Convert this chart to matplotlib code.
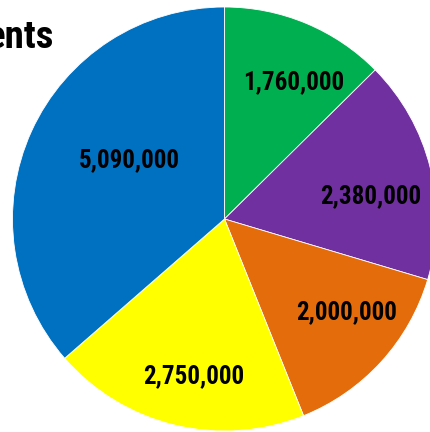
import matplotlib
matplotlib.use("Agg")
import matplotlib.pyplot as plt
import numpy as np

# Data
categories = ["A", "B", "C", "D", "E"]
values = [1760000, 2380000, 2000000, 2750000, 5090000]
labels = ["1,760,000", "2,380,000", "2,000,000", "2,750,000", "5,090,000"]
colors = ["#00B050", "#7030A0", "#E46C0A", "#FFFF00", "#0070C0"]
title_text = "ents"

# Label placement (radial fraction, angular offset in degrees from wedge middle)
label_r = [0.725, 0.70, 0.722, 0.755, 0.53]
label_dang = [-4.3, -5.3, 5.0, 2.4, -7.2]

FONT = ["Roboto Condensed", "Barlow Semi Condensed", "DejaVu Sans"]

fig = plt.figure(figsize=(4.30, 4.32), dpi=100)
W, H = 430, 432
cx, cy, R = 224.5, 219, 212
ax = fig.add_axes([(cx - R) / W, (H - (cy + R)) / H, 2 * R / W, 2 * R / H])
wedges, _ = ax.pie(values, colors=colors, startangle=90, counterclock=False,
                   radius=1, wedgeprops=dict(edgecolor="white", linewidth=0.6))
ax.set_xlim(-1, 1)
ax.set_ylim(-1, 1)
ax.set_aspect("auto")
ax.axis("off")

for w, lab, r, da in zip(wedges, labels, label_r, label_dang):
    mid = np.deg2rad((w.theta1 + w.theta2) / 2 + da)
    ax.text(r * np.cos(mid), r * np.sin(mid), lab, ha="center", va="center",
            fontsize=18, fontweight="bold", family=FONT, color="black")

fig.text(53.5 / W, 1 - 48 / H, title_text, ha="right", va="baseline",
         fontsize=28, fontweight="bold", family=FONT, color="black")

fig.savefig("out.png", dpi=100)
